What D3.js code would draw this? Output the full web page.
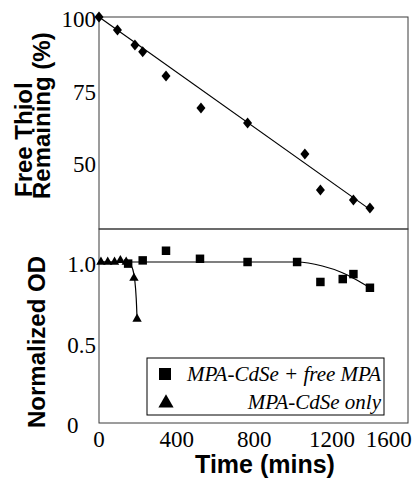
<!DOCTYPE html>
<html>
<head>
<meta charset="utf-8">
<script src="https://cdn.jsdelivr.net/npm/d3@7/dist/d3.min.js"></script>
</head>
<body style="margin:0">
<svg id="chart" width="417" height="479" font-family="Liberation Serif"></svg>
<script>
// ---- Data ----
// Top panel: free thiol remaining (%)
const thiolTime  = [0, 95, 185, 225, 345, 525, 765, 1060, 1140, 1310, 1395];
const thiolValue = [100, 95.5, 90.4, 88, 79.7, 68.7, 63.5, 52.8, 40.4, 37, 34.2];
const thiolFit   = [[0, 100], [1400, 33.5]];

// Bottom panel: normalized OD
const mpaFreeTime  = [150, 225, 345, 520, 765, 1020, 1140, 1255, 1310, 1395];
const mpaFreeValue = [0.99, 1.01, 1.07, 1.02, 1.0, 1.0, 0.876, 0.894, 0.925, 0.84];
const mpaFreeCurve = [[0, 1.0], [300, 1.0], [700, 1.0], [1020, 1.0], [1150, 0.975], [1250, 0.935], [1320, 0.893], [1395, 0.84]];

const mpaOnlyTime  = [10, 45, 80, 110, 140, 180, 196];
const mpaOnlyValue = [1.0, 1.0, 1.0, 1.01, 1.0, 0.90, 0.646];
const mpaOnlyCurve = [[0, 1.0], [140, 1.0], [160, 0.99], [175, 0.96], [185, 0.89], [192, 0.78], [196, 0.646]];

const xTicks    = [0, 400, 800, 1200, 1600];
const yTopTicks = [50, 75, 100];
const yBotTicks = [0, 0.5, 1.0];
const legendLabels = ["MPA-CdSe + free MPA", "MPA-CdSe only"];

// ---- Layout ----
const svg = d3.select("#chart");
const L = 99, R = 408, T1 = 17, B1 = 229, T2 = 229, B2 = 423;

const x = d3.scaleLinear().domain([0, 1591]).range([L, R]);
const yTop = d3.scaleLinear().domain([27, 100]).range([B1, T1]);
const yBot = d3.scaleLinear().domain([0, 1.205]).range([B2, T2]);

const SERIF = "Liberation Serif";
const SANS = "Liberation Sans";
const frameColor = "#3a3a3a";

// Frames
svg.append("rect").attr("x", L).attr("y", T1).attr("width", R - L).attr("height", B1 - T1)
  .attr("fill", "none").attr("stroke", frameColor).attr("stroke-width", 1);
svg.append("rect").attr("x", L).attr("y", T2).attr("width", R - L).attr("height", B2 - T2)
  .attr("fill", "none").attr("stroke", frameColor).attr("stroke-width", 1);

// Tick labels drawn as plain text positioned by the scales
function addLabels(vals, fmt, px, py, anchor, extra) {
  svg.append("g").selectAll("text").data(vals).join("text")
    .attr("x", px).attr("y", py).attr("text-anchor", anchor)
    .attr("font-family", SERIF).attr("font-size", 23).attr("fill", "#000")
    .text(fmt)
    .each(function (d) { if (extra) extra(d3.select(this), d); });
}
addLabels(yTopTicks, d3.format("d"), L - 3, d => yTop(d) + 10, "end");
addLabels(yBotTicks, d => d === 0 ? "0" : d3.format(".1f")(d), L - 3, d => yBot(d) + 10, "end",
  (s, d) => { if (d === 0) s.attr("text-anchor", "start").attr("x", L - 32); });
addLabels(xTicks, d3.format("d"), d => x(d), B2 + 24, "middle",
  (s, d) => { if (d === 1600) s.attr("text-anchor", "end").attr("x", x(d) + 2); });

// Top panel: fit line and diamonds
const line = d3.line().x(d => x(d[0])).y(d => yTop(d[1]));
svg.append("path").datum(thiolFit).attr("d", line)
  .attr("fill", "none").attr("stroke", "#000").attr("stroke-width", 1.2);
const diamond = "M0,-5.5L4.5,0L0,5.5L-4.5,0Z";
svg.append("g").selectAll("path").data(thiolTime.map((t, i) => [t, thiolValue[i]]))
  .join("path")
  .attr("transform", d => `translate(${x(d[0])},${yTop(d[1])})`)
  .attr("d", diamond).attr("fill", "#000");

// Bottom panel: curves
const lineB = d3.line().x(d => x(d[0])).y(d => yBot(d[1])).curve(d3.curveMonotoneX);
svg.append("path").datum(mpaFreeCurve).attr("d", lineB)
  .attr("fill", "none").attr("stroke", "#000").attr("stroke-width", 1.2);
svg.append("path").datum(mpaOnlyCurve)
  .attr("d", d3.line().x(d => x(d[0])).y(d => yBot(d[1])).curve(d3.curveBasis))
  .attr("fill", "none").attr("stroke", "#000").attr("stroke-width", 1.2);

// Squares
svg.append("g").selectAll("path").data(mpaFreeTime.map((t, i) => [t, mpaFreeValue[i]]))
  .join("path")
  .attr("transform", d => `translate(${x(d[0])},${yBot(d[1])})`)
  .attr("d", d3.symbol(d3.symbolSquare, 72)()).attr("fill", "#000");
// Triangles
svg.append("g").selectAll("path").data(mpaOnlyTime.map((t, i) => [t, mpaOnlyValue[i]]))
  .join("path")
  .attr("transform", d => `translate(${x(d[0])},${yBot(d[1])})`)
  .attr("d", d3.symbol(d3.symbolTriangle, 38)()).attr("fill", "#000");

// Legend
svg.append("rect").attr("x", 147).attr("y", 358).attr("width", 237).attr("height", 57)
  .attr("fill", "#fff").attr("stroke", "#000").attr("stroke-width", 1);
svg.append("path").attr("transform", "translate(165,374)")
  .attr("d", d3.symbol(d3.symbolSquare, 144)()).attr("fill", "#000");
svg.append("path").attr("transform", "translate(166,403)")
  .attr("d", d3.symbol(d3.symbolTriangle, 100)()).attr("fill", "#000");
svg.append("g").selectAll("text").data(legendLabels).join("text")
  .attr("x", 381).attr("y", (d, i) => 381 + i * 28)
  .attr("text-anchor", "end").attr("font-family", SERIF).attr("font-style", "italic")
  .attr("font-size", 21).attr("fill", "#000").text(d => d);

// Axis titles
function vtitle(txt, bx, by, anchor) {
  svg.append("text").attr("transform", `translate(${bx},${by}) rotate(-90)`)
    .attr("text-anchor", anchor).attr("font-family", SANS).attr("font-weight", "bold")
    .attr("font-size", 24).attr("fill", "#000").text(txt);
}
vtitle("Free Thiol", 32, 197, "start");
vtitle("Remaining (%)", 50, 199, "start");
vtitle("Normalized OD", 45, 342, "middle");
svg.append("text").attr("x", 265).attr("y", 473).attr("text-anchor", "middle")
  .attr("font-family", SANS).attr("font-weight", "bold").attr("font-size", 25)
  .attr("fill", "#000").text("Time (mins)");
</script>
</body>
</html>
